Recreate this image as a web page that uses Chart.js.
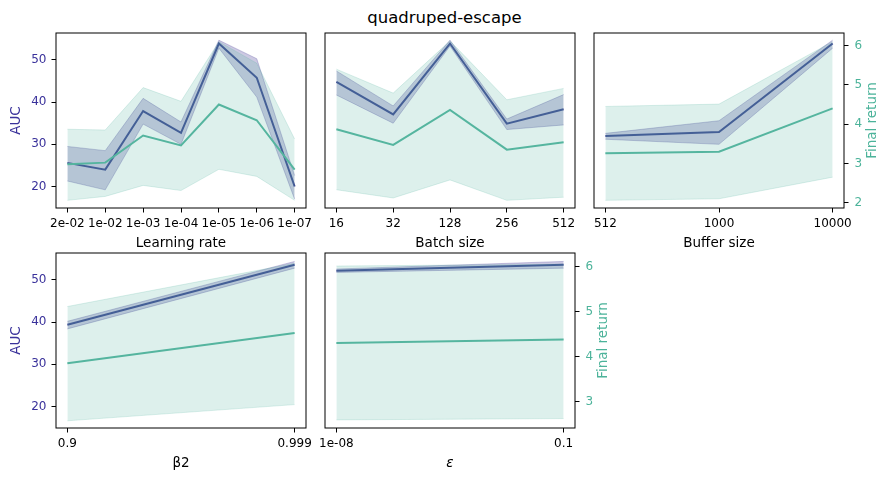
<!DOCTYPE html>
<html>
<head>
<meta charset="utf-8">
<script src="https://cdn.jsdelivr.net/npm/chart.js@4.4.0/dist/chart.umd.min.js"></script>
<style>
    body { margin: 0; background: #fff; width: 889px; height: 480px; overflow: hidden; position: relative; }
    canvas { position: absolute; }
    #title { position: absolute; left: 0; width: 889px; top: 8px; text-align: center;
             font-family: 'DejaVu Sans'; font-size: 16.5px; color: #000; }
</style>
</head>
<body>
<div id="title">quadruped-escape</div>
<canvas id="lrChart" width="365" height="235" style="left:0.5px;top:25px"></canvas>
<canvas id="bsChart" width="365" height="235" style="left:269.5px;top:25px"></canvas>
<canvas id="bufChart" width="365" height="235" style="left:538.5px;top:25px"></canvas>
<canvas id="b2Chart" width="365" height="235" style="left:0.5px;top:244.5px"></canvas>
<canvas id="epsChart" width="365" height="235" style="left:269.5px;top:244.5px"></canvas>
<script>
// Learning rate
const lrLabels = ['2e-02', '1e-02', '1e-03', '1e-04', '1e-05', '1e-06', '1e-07'];
const lrAuc = [25.6, 24.0, 37.9, 32.7, 53.9, 45.8, 20.0];
const lrAucLo = [21.3, 19.2, 34.8, 30.0, 52.8, 41.2, 17.0];
const lrAucHi = [29.5, 28.5, 40.9, 35.3, 54.7, 50.3, 22.6];
const lrRet = [2.98, 3.02, 3.71, 3.46, 4.50, 4.10, 2.84];
const lrRetLo = [2.06, 2.16, 2.44, 2.31, 2.85, 2.67, 2.06];
const lrRetHi = [3.87, 3.85, 4.93, 4.58, 6.10, 5.55, 3.62];

// Batch size
const bsLabels = ['16', '32', '128', '256', '512'];
const bsAuc = [44.8, 37.1, 53.9, 34.9, 38.3];
const bsAucLo = [41.7, 35.0, 53.3, 33.5, 34.6];
const bsAucHi = [47.4, 39.1, 54.7, 36.0, 41.8];
const bsRet = [3.87, 3.47, 4.36, 3.35, 3.54];
const bsRetLo = [2.33, 2.12, 2.58, 2.06, 2.14];
const bsRetHi = [5.40, 4.79, 6.12, 4.62, 4.91];

// Buffer size
const bufLabels = ['512', '1000', '10000'];
const bufAuc = [32.0, 32.9, 53.9];
const bufAucLo = [31.2, 30.0, 52.8];
const bufAucHi = [32.6, 35.6, 54.7];
const bufRet = [3.26, 3.30, 4.40];
const bufRetLo = [2.06, 2.10, 2.65];
const bufRetHi = [4.45, 4.51, 6.10];

// beta2
const b2Labels = ['0.9', '0.999'];
const b2Auc = [39.4, 53.6];
const b2AucLo = [38.4, 52.8];
const b2AucHi = [40.2, 54.4];
const b2Ret = [3.86, 4.53];
const b2RetLo = [2.58, 2.94];
const b2RetHi = [5.12, 6.08];

// epsilon
const epsLabels = ['1e-08', '0.1'];
const epsAuc = [52.2, 53.6];
const epsAucLo = [51.8, 52.8];
const epsAucHi = [52.6, 54.4];
const epsRet = [4.31, 4.39];
const epsRetLo = [2.60, 2.63];
const epsRetHi = [6.02, 6.06];

// tick values
const aucTicks = [20, 30, 40, 50];
const retTicksTop = [2, 3, 4, 5, 6];
const retTicksBottom = [3, 4, 5, 6];

const AUC_COLOR = '#404a94';
const AUC_TEXT = '#3a329b';
const RET_COLOR = '#55b59f';
const RET_TEXT = '#4cb39a';
const AUC_FILL = 'rgba(72, 62, 150, 0.28)';
const RET_FILL = 'rgba(85, 181, 159, 0.2)';

Chart.defaults.font.family = 'DejaVu Sans';
Chart.defaults.font.size = 12;
Chart.defaults.color = '#000';

// draws the box round the plot area like matplotlib spines,
// and the right axis title reading bottom to top
const frame = {
    id: 'frame',
    afterDraw(chart, args, opts) {
        const a = chart.chartArea;
        const ctx = chart.ctx;
        ctx.save();
        ctx.strokeStyle = '#000';
        ctx.lineWidth = 1;
        ctx.strokeRect(a.left, a.top, a.right - a.left, a.bottom - a.top);
        if (opts.rightTitle) {
            ctx.translate(a.right + 28, (a.top + a.bottom) / 2);
            ctx.rotate(-Math.PI / 2);
            ctx.fillStyle = RET_TEXT;
            ctx.font = '13.5px "DejaVu Sans"';
            ctx.textAlign = 'center';
            ctx.textBaseline = 'middle';
            ctx.fillText(opts.rightTitle, 0, 0);
        }
        ctx.restore();
    }
};

function pts(values) {
    return values.map((v, i) => ({ x: i, y: v }));
}

function noPad(s) {
    s.paddingTop = 0;
    s.paddingBottom = 0;
}

function makePanel(id, p) {
    const n = p.labels.length;
    const span = n - 1;
    new Chart(document.getElementById(id), {
        type: 'line',
        data: {
            datasets: [
                { data: pts(p.aucHi), yAxisID: 'y', fill: '+1', backgroundColor: AUC_FILL, borderColor: AUC_FILL, borderWidth: 1, pointRadius: 0, order: 4 },
                { data: pts(p.aucLo), yAxisID: 'y', fill: false, borderColor: AUC_FILL, borderWidth: 1, pointRadius: 0, order: 4 },
                { data: pts(p.auc), yAxisID: 'y', fill: false, borderColor: AUC_COLOR, borderWidth: 2, pointRadius: 0, order: 3 },
                { data: pts(p.retHi), yAxisID: 'y2', fill: '+1', backgroundColor: RET_FILL, borderColor: RET_FILL, borderWidth: 1, pointRadius: 0, order: 2 },
                { data: pts(p.retLo), yAxisID: 'y2', fill: false, borderColor: RET_FILL, borderWidth: 1, pointRadius: 0, order: 2 },
                { data: pts(p.ret), yAxisID: 'y2', fill: false, borderColor: RET_COLOR, borderWidth: 2, pointRadius: 0, order: 1 }
            ]
        },
        options: {
            responsive: false,
            animation: false,
            layout: { padding: { top: 8, left: 0, right: 0, bottom: 0 } },
            plugins: {
                legend: { display: false },
                tooltip: { enabled: false },
                frame: { rightTitle: p.showRet ? 'Final return' : '' }
            },
            scales: {
                x: {
                    type: 'linear',
                    min: -0.05 * span,
                    max: span * 1.05,
                    afterBuildTicks: s => { s.ticks = p.labels.map((l, i) => ({ value: i })); },
                    afterFit: s => { s.height = 52; },
                    ticks: { callback: v => p.labels[v], autoSkip: false, maxRotation: 0, padding: 4, color: '#000' },
                    grid: { drawOnChartArea: false, tickLength: 4.5, color: '#000' },
                    border: { display: false },
                    title: { display: true, text: p.xTitle, font: { size: 13.5, style: p.italic ? 'italic' : 'normal' }, padding: { top: 0, bottom: 8 }, color: '#000' }
                },
                y: {
                    position: 'left',
                    min: 14.9,
                    max: 56.4,
                    afterBuildTicks: s => { s.ticks = aucTicks.map(v => ({ value: v })); },
                    afterFit: s => { s.width = 55; noPad(s); },
                    ticks: { display: p.showAuc, color: AUC_TEXT, padding: 5 },
                    grid: { display: p.showAuc, drawOnChartArea: false, tickLength: 4.5, color: '#000' },
                    border: { display: false },
                    title: { display: p.showAuc, text: 'AUC', color: AUC_TEXT, font: { size: 13.5 }, padding: { top: 7.5, bottom: 0 } }
                },
                y2: {
                    position: 'right',
                    min: p.retMin,
                    max: p.retMax,
                    afterBuildTicks: s => { s.ticks = p.retTicks.map(v => ({ value: v })); },
                    afterFit: s => { s.width = 60; noPad(s); },
                    ticks: { display: p.showRet, color: RET_TEXT, padding: 6 },
                    grid: { display: p.showRet, drawOnChartArea: false, tickLength: 4.5, color: '#000' },
                    border: { display: false }
                }
            }
        },
        plugins: [frame]
    });
}

makePanel('lrChart', {
    labels: lrLabels, xTitle: 'Learning rate',
    auc: lrAuc, aucLo: lrAucLo, aucHi: lrAucHi, ret: lrRet, retLo: lrRetLo, retHi: lrRetHi,
    retMin: 1.865, retMax: 6.32, retTicks: retTicksTop, showAuc: true, showRet: false
});
makePanel('bsChart', {
    labels: bsLabels, xTitle: 'Batch size',
    auc: bsAuc, aucLo: bsAucLo, aucHi: bsAucHi, ret: bsRet, retLo: bsRetLo, retHi: bsRetHi,
    retMin: 1.865, retMax: 6.32, retTicks: retTicksTop, showAuc: false, showRet: false
});
makePanel('bufChart', {
    labels: bufLabels, xTitle: 'Buffer size',
    auc: bufAuc, aucLo: bufAucLo, aucHi: bufAucHi, ret: bufRet, retLo: bufRetLo, retHi: bufRetHi,
    retMin: 1.865, retMax: 6.32, retTicks: retTicksTop, showAuc: false, showRet: true
});
makePanel('b2Chart', {
    labels: b2Labels, xTitle: 'β2',
    auc: b2Auc, aucLo: b2AucLo, aucHi: b2AucHi, ret: b2Ret, retLo: b2RetLo, retHi: b2RetHi,
    retMin: 2.42, retMax: 6.31, retTicks: retTicksBottom, showAuc: true, showRet: false
});
makePanel('epsChart', {
    labels: epsLabels, xTitle: 'ε', italic: true,
    auc: epsAuc, aucLo: epsAucLo, aucHi: epsAucHi, ret: epsRet, retLo: epsRetLo, retHi: epsRetHi,
    retMin: 2.42, retMax: 6.31, retTicks: retTicksBottom, showAuc: false, showRet: true
});
</script>
</body>
</html>
